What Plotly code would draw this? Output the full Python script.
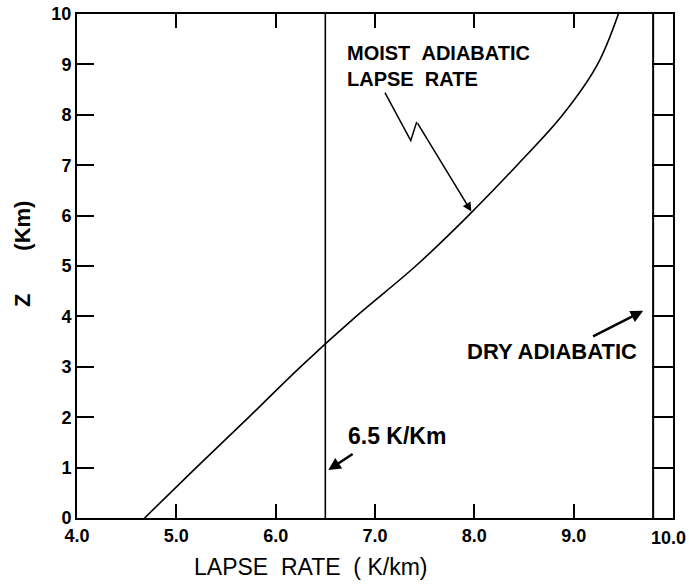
import plotly.graph_objects as go

# Data
height_km = [0, 1, 2, 3, 4, 5, 6, 7, 8, 9, 10]
moist_lapse_rate = [4.68, 5.20, 5.73, 6.25, 6.81, 7.41, 7.94, 8.43, 8.89, 9.24, 9.45]
env_lapse_rate = 6.5
dry_lapse_rate = 9.8
x_tick_vals = [4, 5, 6, 7, 8, 9, 10]
x_tick_text = ["4.0", "5.0", "6.0", "7.0", "8.0", "9.0", "10.0"]
y_tick_vals = [0, 1, 2, 3, 4, 5, 6, 7, 8, 9, 10]

FONT = "Liberation Sans, Arial, sans-serif"
NB = "\u00a0"

fig = go.Figure()
fig.add_trace(go.Scatter(x=moist_lapse_rate, y=height_km, mode="lines",
                         line=dict(color="black", width=1.6, shape="spline", smoothing=1.0),
                         showlegend=False, hoverinfo="skip"))
fig.add_trace(go.Scatter(x=[env_lapse_rate, env_lapse_rate], y=[0, 10], mode="lines",
                         line=dict(color="black", width=1.6), showlegend=False, hoverinfo="skip"))
fig.add_trace(go.Scatter(x=[dry_lapse_rate, dry_lapse_rate], y=[0, 10], mode="lines",
                         line=dict(color="black", width=2), showlegend=False, hoverinfo="skip"))
fig.add_trace(go.Scatter(x=[dry_lapse_rate], y=[0], yaxis="y2", mode="markers",
                         marker=dict(opacity=0), showlegend=False, hoverinfo="skip"))

fig.update_layout(
    width=689, height=587,
    margin=dict(l=77, r=16, t=14, b=69, autoexpand=False),
    paper_bgcolor="white", plot_bgcolor="white",
    font=dict(family=FONT, color="black"),
    xaxis=dict(range=[4, 10], tickvals=x_tick_vals[:-1], ticktext=x_tick_text[:-1],
               ticks="inside", ticklen=14, tickwidth=2, tickcolor="black",
               showline=True, linewidth=2, linecolor="black", mirror="ticks",
               showgrid=False, zeroline=False, automargin=False,
               ticklabeloverflow="allow",
               tickfont=dict(size=18, family=FONT, color="black", weight="bold")),
    yaxis=dict(range=[0, 10], tickvals=y_tick_vals,
               ticks="inside", ticklen=17, tickwidth=2, tickcolor="black",
               showline=True, linewidth=2, linecolor="black", mirror=True,
               showgrid=False, zeroline=False, automargin=False,
               ticklabeloverflow="allow",
               tickfont=dict(size=18, family=FONT, color="black", weight="bold")),
    yaxis2=dict(range=[0, 10], tickvals=y_tick_vals, overlaying="y", side="right",
                ticks="inside", ticklen=21, tickwidth=2, tickcolor="black",
                showline=False, showgrid=False, zeroline=False, showticklabels=False,
                automargin=False),
)

# last x tick label (10.0) sits slightly left of the frame edge in the reference
fig.add_annotation(text=x_tick_text[-1], x=x_tick_vals[-1], xref="x", yref="paper", y=-0.04,
                   xanchor="center", yanchor="middle", xshift=-5, showarrow=False,
                   font=dict(size=18, family=FONT, color="black", weight="bold"))

# axis titles
fig.add_annotation(text="LAPSE" + NB * 2 + "RATE" + NB * 2 + "(" + NB + "K/km)",
                   xref="paper", yref="paper", x=0.391, y=-0.097,
                   xanchor="center", yanchor="middle",
                   showarrow=False, font=dict(size=23, family=FONT, color="black"))
fig.add_annotation(text="<b>Z" + NB * 7 + "(Km)</b>", textangle=-90,
                   xref="paper", yref="paper", x=-0.0906, y=0.524,
                   xanchor="center", yanchor="middle",
                   showarrow=False, font=dict(size=22, family=FONT, color="black"))

# labels
fig.add_annotation(text="<b>MOIST" + NB * 2 + "ADIABATIC<br>LAPSE" + NB * 2 + "RATE</b>",
                   x=6.70, y=8.96, xanchor="left", yanchor="middle", align="left",
                   showarrow=False, font=dict(size=20, family=FONT, color="black"))
fig.add_shape(type="path", path="M 7.10,8.44 L 7.36,7.49 L 7.42,7.86",
              line=dict(color="black", width=1.5), xref="x", yref="y")
fig.add_annotation(x=7.97, y=6.08, ax=7.42, ay=7.86, axref="x", ayref="y",
                   text="", showarrow=True, arrowhead=2, arrowsize=1.2,
                   arrowwidth=1.5, arrowcolor="black")

fig.add_annotation(text="<b>6.5 K/Km</b>", x=7.22, y=1.63, showarrow=False,
                   xanchor="center", yanchor="middle",
                   font=dict(size=23, family=FONT, color="black"))
fig.add_annotation(x=6.53, y=0.95, ax=6.79, ay=1.29, axref="x", ayref="y",
                   text="", showarrow=True, arrowhead=2, arrowsize=1,
                   arrowwidth=2.5, arrowcolor="black")

fig.add_annotation(text="<b>DRY ADIABATIC</b>", x=9.66, y=3.30, xanchor="right",
                   yanchor="middle",
                   showarrow=False, font=dict(size=22, family=FONT, color="black"))
fig.add_annotation(x=9.70, y=4.11, ax=9.18, ay=3.59, axref="x", ayref="y",
                   text="", showarrow=True, arrowhead=2, arrowsize=1,
                   arrowwidth=2.5, arrowcolor="black")

fig.write_html("out.html", config={"displayModeBar": False},
               post_script="document.body.style.margin='0';")
